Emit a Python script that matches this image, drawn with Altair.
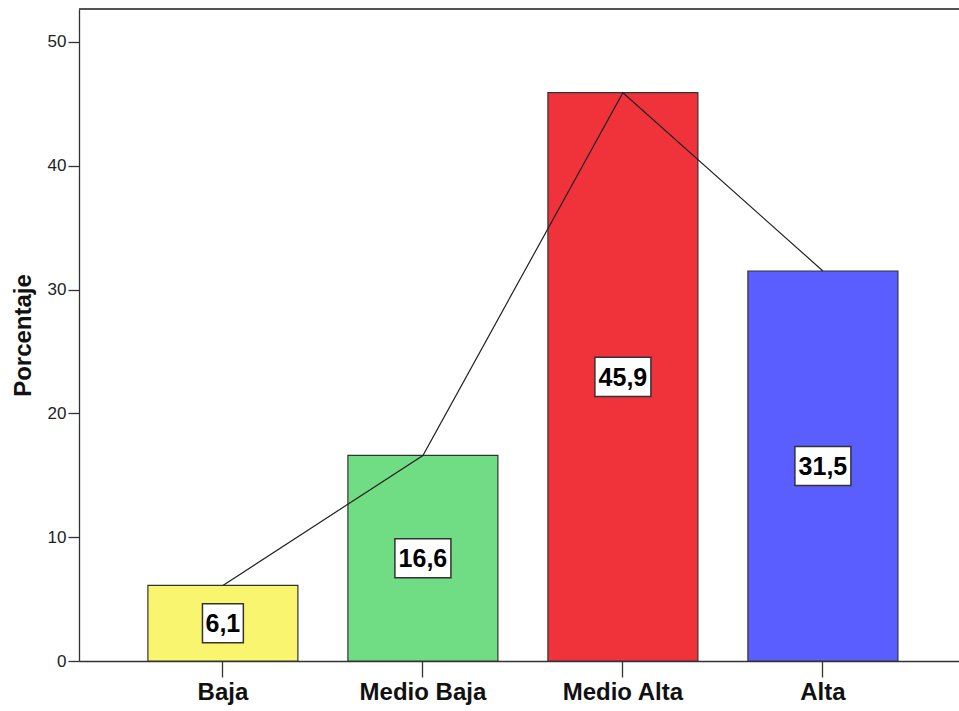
import altair as alt
import pandas as pd

categories = ["Baja", "Medio Baja", "Medio Alta", "Alta"]
values = [6.1, 16.6, 45.9, 31.5]
labels = ["6,1", "16,6", "45,9", "31,5"]
colors = ["#f9f56f", "#70dc84", "#f0323b", "#5a5efe"]
y_ticks = [0, 10, 20, 30, 40, 50]

df = pd.DataFrame({
    "cat": categories,
    "val": values,
    "label": labels,
    "half": [v / 2 for v in values],
})

FONT = "Liberation Sans"
W, H = 880, 652

xscale = alt.Scale(domain=categories, paddingInner=0.25, paddingOuter=0.325, align=0.53)
yscale = alt.Scale(domain=[0, 52.66], nice=False, zero=True)

x_enc = alt.X("cat:N", scale=xscale, sort=categories, title=None,
              axis=alt.Axis(labelAngle=0, labelFont=FONT, labelFontSize=24, labelFontWeight="bold",
                            labelColor="#111", tickSize=16, tickColor="#333", tickWidth=1.3,
                            domainColor="#333", domainWidth=1.3, labelPadding=3, grid=False))
y_enc = alt.Y("val:Q", scale=yscale, title="Porcentaje",
              axis=alt.Axis(values=y_ticks, labelFont=FONT, labelFontSize=17, labelColor="#222",
                            tickSize=11, tickColor="#333", tickWidth=1.3, domainColor="#333",
                            domainWidth=1.3, labelPadding=2, grid=False,
                            titleFont=FONT, titleFontSize=24, titleFontWeight="bold",
                            titleColor="#111", titleX=-56, titleBaseline="middle"))

bars = alt.Chart(df).mark_bar(stroke="#333", strokeWidth=1.2, opacity=1).encode(
    x=x_enc,
    y=y_enc,
    color=alt.Color("cat:N", scale=alt.Scale(domain=categories, range=colors), legend=None),
)

line = alt.Chart(df).mark_line(color="#222", strokeWidth=1.2).encode(
    x=alt.X("cat:N", scale=xscale, sort=categories),
    y=alt.Y("val:Q", scale=yscale),
)

wide_box = "M-1,-0.7L1,-0.7L1,0.7L-1,0.7Z"
narrow_box = "M-0.73,-0.7L0.73,-0.7L0.73,0.7L-0.73,0.7Z"

boxes = alt.Chart(df).mark_point(filled=True, fill="white", stroke="#333", strokeWidth=1.5,
                                 opacity=1, size=3136).encode(
    x=alt.X("cat:N", scale=xscale, sort=categories),
    y=alt.Y("half:Q", scale=yscale),
    shape=alt.condition("length(datum.label) > 3", alt.value(wide_box), alt.value(narrow_box)),
)

texts = alt.Chart(df).mark_text(font=FONT, fontSize=25, fontWeight="bold", color="#000",
                                baseline="middle", dy=1).encode(
    x=alt.X("cat:N", scale=xscale, sort=categories),
    y=alt.Y("half:Q", scale=yscale),
    text="label:N",
)

top = alt.Chart(df).mark_rule(color="#555", strokeWidth=1.5).encode(
    x=alt.value(0), x2=alt.value(W), y=alt.value(0)
)

chart = alt.layer(bars, line, boxes, texts, top).properties(
    width=W, height=H,
    autosize=alt.AutoSizeParams(type="none"),
    padding={"left": 79, "top": 9, "right": 0, "bottom": 50},
).configure_view(stroke=None).configure(background="white")

chart.save("out.html", embed_options={"renderer": "svg", "actions": False})
